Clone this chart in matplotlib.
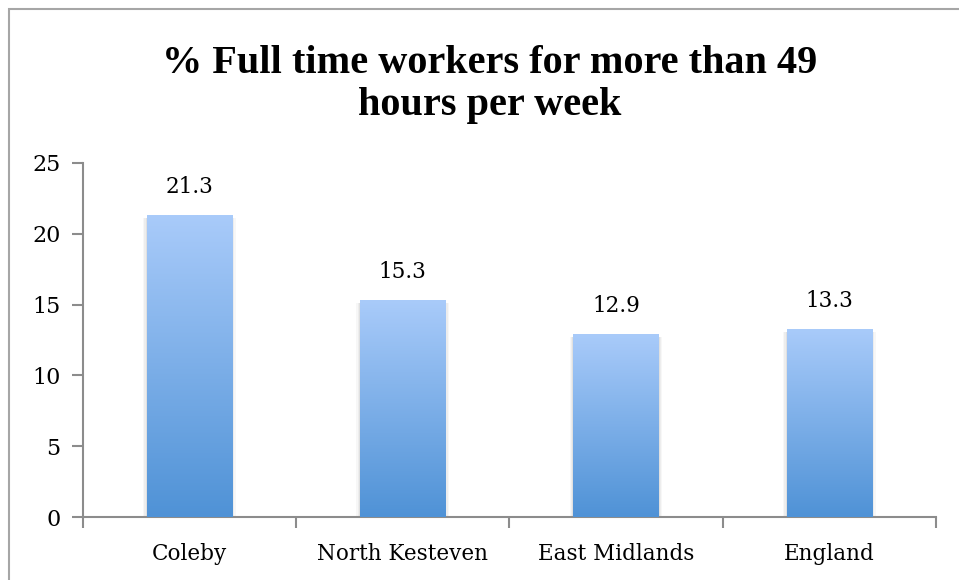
import numpy as np
import matplotlib
matplotlib.use("Agg")
from matplotlib import pyplot as plt
from matplotlib.colors import LinearSegmentedColormap
from matplotlib.patches import Rectangle

# data
categories = ["Coleby", "North Kesteven", "East Midlands", "England"]
values = [21.3, 15.3, 12.9, 13.3]
y_ticks = [0, 5, 10, 15, 20, 25]
title_lines = ["% Full time workers for more than 49", "hours per week"]

plt.rcParams['font.family'] = ['DejaVu Serif']

fig = plt.figure(figsize=(9.59, 5.80), dpi=100)
ax = fig.add_axes([0.0862, 0.1086, 0.8898, 0.6104])

# outer chart border (only top/left visible in the crop)
fig.patches.append(Rectangle((9 / 959, -0.2), 1.2, (580 - 9) / 580 + 0.2,
                             transform=fig.transFigure, fill=False,
                             edgecolor="#a6a6a6", linewidth=1.5))

x = np.arange(len(categories))
bars = ax.bar(x, values, width=0.40, color="none", edgecolor="none", zorder=3)

cmap = LinearSegmentedColormap.from_list("bargrad", ["#4f92d6", "#a9cbfa"])
grad = np.linspace(0, 1, 256).reshape(-1, 1)
for b in bars:
    x0, w, h = b.get_x(), b.get_width(), b.get_height()
    # soft shadow around the bar
    for k, a in [(0.035, 0.03), (0.022, 0.04), (0.01, 0.05)]:
        ax.add_patch(Rectangle((x0 - k / 2, -0.12), w + k, h - 0.1,
                               facecolor="#000000", alpha=a, edgecolor="none", zorder=2))
    im = ax.imshow(grad, cmap=cmap, aspect="auto", origin="lower",
                   extent=(x0, x0 + w, 0, h), zorder=4)
    im.set_clip_path(b)
    ax.text(b.get_x() + w / 2, h + 1.2, "{:.1f}".format(h), ha="center", va="bottom",
            fontsize=15.5, color="black")

ax.set_xlim(-0.5, len(categories) - 0.5)
ax.set_ylim(0, 25)
ax.set_yticks(y_ticks)
ax.set_yticklabels([str(t) for t in y_ticks], fontsize=16)
ax.set_xticks(x)
ax.set_xticklabels(categories, fontsize=15.5)
ax.set_xticks(np.arange(len(categories) + 1) - 0.5, minor=True)
ax.tick_params(axis="x", which="major", length=0, pad=19)
ax.tick_params(axis="x", which="minor", length=8, width=1.5, color="#8c8c8c")
ax.tick_params(axis="y", length=8, width=1.5, color="#8c8c8c", pad=8)

for s in ["top", "right"]:
    ax.spines[s].set_visible(False)
for s in ["left", "bottom"]:
    ax.spines[s].set_color("#8c8c8c")
    ax.spines[s].set_linewidth(1.5)

# title, two lines placed on their own baselines
for line, yb in zip(title_lines, [0.874, 0.802]):
    fig.text(0.511, yb, line, ha="center", va="baseline", fontsize=29,
             fontweight="bold", family=["Liberation Serif", "DejaVu Serif"])

fig.savefig("out.png", dpi=100)
